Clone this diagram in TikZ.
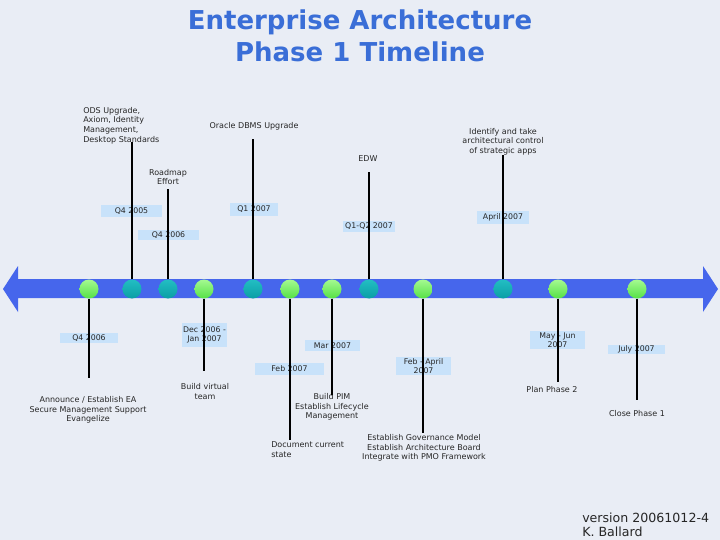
\documentclass[tikz,border=0pt]{standalone}
\usepackage{fontspec}
\setmainfont{DejaVu Sans}
\usetikzlibrary{positioning,backgrounds}
\definecolor{bgcol}{RGB}{233,237,245}
\definecolor{titleblue}{RGB}{58,110,215}
\definecolor{bandblue}{RGB}{70,102,236}
\definecolor{datecol}{RGB}{200,226,250}
\definecolor{greenhi}{RGB}{165,250,145}
\definecolor{greenlo}{RGB}{85,225,70}
\definecolor{tealhi}{RGB}{35,190,195}
\definecolor{teallo}{RGB}{10,158,165}
\tikzset{every picture/.style={line width=0.5pt}}
\tikzstyle{mgreen}=[circle,inner sep=0pt,minimum size=19pt,top color=greenhi,bottom color=greenlo]
\tikzstyle{mteal}=[circle,inner sep=0pt,minimum size=19pt,top color=tealhi,bottom color=teallo]
\tikzstyle{datebox}=[fill=datecol,inner sep=0pt,align=center,text=black!85,font=\fontsize{7.8}{9}\selectfont]
\tikzstyle{lbl}=[inner sep=0pt,align=center,text=black!85,font=\fontsize{8}{9.7}\selectfont]
\tikzstyle{stem}=[draw,line width=2pt]

\begin{document}
\begin{tikzpicture}[x=1pt,y=-1pt]
\fill[bgcol] (0,0) rectangle (720,540);
\useasboundingbox (0,0) rectangle (720,540);
% title
\node[font=\fontsize{26}{32}\selectfont\bfseries,text=titleblue,align=center] (T) at (360,36) {Enterprise Architecture\\Phase 1 Timeline};
% double arrow
\fill[bandblue] (3,289) -- (18,266) -- (18,279) -- (703,279) -- (703,266) -- (718,289)
  -- (703,312) -- (703,298) -- (18,298) -- (18,312) -- cycle;
% dates above
\node[datebox,minimum width=61pt,minimum height=12pt] (d2) at (131.5,211.5) {Q4 2005};
\node[datebox,minimum width=61pt,minimum height=10pt] (d3) at (168.5,235) {Q4 2006};
\node[datebox,minimum width=48pt,minimum height=13pt] (d5) at (254,209.5) {Q1 2007};
\node[datebox,minimum width=52pt,minimum height=11pt] (d8) at (369,226.5) {Q1-Q2 2007};
\node[datebox,minimum width=52pt,minimum height=13pt] (d10) at (503,217.5) {April 2007};
% dates below
\node[datebox,minimum width=58pt,minimum height=10pt] (d1) at (89,338) {Q4 2006};
\node[datebox,minimum width=45pt,minimum height=24pt] (d4) at (204.5,335) {Dec 2006 -\\Jan 2007};
\node[datebox,minimum width=69pt,minimum height=12pt] (d6) at (289.5,369) {Feb 2007};
\node[datebox,minimum width=55pt,minimum height=11pt] (d7) at (332.5,345.5) {Mar 2007};
\node[datebox,minimum width=55pt,minimum height=18pt] (d9) at (423.5,366) {Feb - April\\2007};
\node[datebox,minimum width=55pt,minimum height=18pt] (d11) at (557.5,340) {May - Jun\\2007};
\node[datebox,minimum width=57pt,minimum height=9pt] (d12) at (636.5,349.5) {July 2007};
% milestones
\node[mgreen] (A) at (89,289) {};
\node[mteal] (B) at (132,289) {};
\node[mteal] (C) at (168,289) {};
\node[mgreen] (D) at (204,289) {};
\node[mteal] (E) at (253,289) {};
\node[mgreen] (F) at (290,289) {};
\node[mgreen] (G) at (332,289) {};
\node[mteal] (H) at (369,289) {};
\node[mgreen] (I) at (423,289) {};
\node[mteal] (J) at (503,289) {};
\node[mgreen] (K) at (558,289) {};
\node[mgreen] (L) at (637,289) {};
% labels
\node[lbl,align=left,anchor=west] (tB) at (83,125.5) {ODS Upgrade,\\Axiom, Identity\\Management,\\Desktop Standards};
\node[lbl] (tC) at (168,177) {Roadmap\\Effort};
\node[lbl] (tE) at (254,126) {Oracle DBMS Upgrade};
\node[lbl] (tH) at (368,159) {EDW};
\node[lbl] (tJ) at (503,141.5) {Identify and take\\architectural control\\of strategic apps};
\node[lbl] (tA) at (88,410) {Announce / Establish EA\\Secure Management Support\\Evangelize};
\node[lbl] (tD) at (205,391.5) {Build virtual\\team};
\node[lbl,align=left,anchor=west] (tF) at (271,449.5) {Document current\\state};
\node[lbl] (tG) at (332,407) {Build PIM\\Establish Lifecycle\\Management};
\node[lbl] (tI) at (424,448) {Establish Governance Model\\Establish Architecture Board\\Integrate with PMO Framework};
\node[lbl] (tK) at (552,390) {Plan Phase 2};
\node[lbl] (tL) at (637,414) {Close Phase 1};
% stem ends
\coordinate (a) at (89,378);
\coordinate (b) at (132,142);
\coordinate (c) at (168,189);
\coordinate (d) at (204,371);
\coordinate (e) at (253,139);
\coordinate (f) at (290,440);
\coordinate (g) at (332,395);
\coordinate (h) at (369,172);
\coordinate (i) at (423,433);
\coordinate (j) at (503,155);
\coordinate (k) at (558,382);
\coordinate (l) at (637,400);
\path[stem]
(A) edge (a)
(B) edge (b)
(C) edge (c)
(D) edge (d)
(E) edge (e)
(F) edge (f)
(G) edge (g)
(H) edge (h)
(I) edge (i)
(J) edge (j)
(K) edge (k)
(L) edge (l);
% version
\node[font=\fontsize{12.6}{14}\selectfont,text=black!85,align=left,anchor=north west,inner sep=0pt] (V) at (582,513) {version 20061012-4\\K. Ballard};
\end{tikzpicture}
\end{document}
